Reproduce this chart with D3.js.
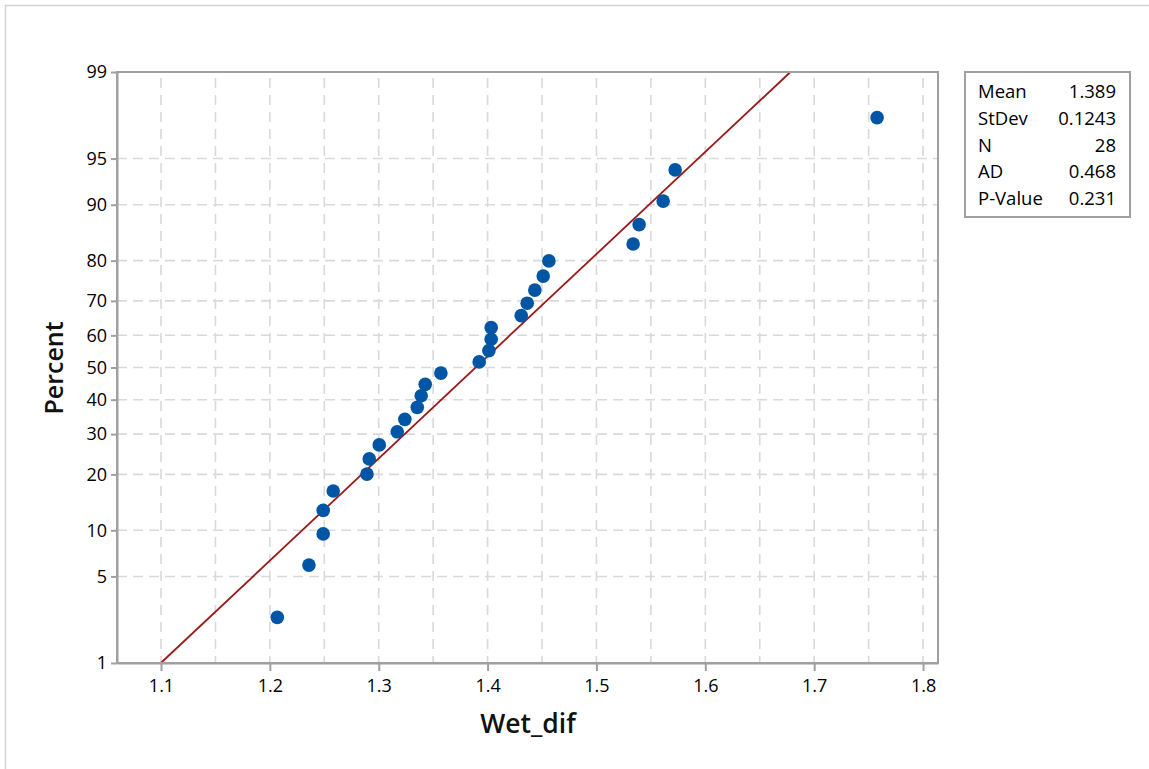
<!DOCTYPE html>
<html><head><meta charset="utf-8">
<script src="https://cdn.jsdelivr.net/npm/d3@7"></script>
<style>body{margin:0;background:#fff}svg{display:block}</style>
</head><body><svg id="c" width="1149" height="769"></svg>
<script>
// ---- data ----
const wetDif = [1.2068, 1.2359, 1.2490, 1.2490, 1.2582, 1.2892, 1.2913, 1.3005, 1.3170, 1.3240,
  1.3354, 1.3390, 1.3427, 1.3571, 1.3923, 1.4012, 1.4033, 1.4033, 1.4309, 1.4364,
  1.4434, 1.4511, 1.4563, 1.5337, 1.5392, 1.5613, 1.5723, 1.7578];
const percents = [2.46, 5.99, 9.51, 13.03, 16.55, 20.07, 23.59, 27.11, 30.63, 34.15,
  37.68, 41.20, 44.72, 48.24, 51.76, 55.28, 58.80, 62.32, 65.85, 69.37,
  72.89, 76.41, 79.93, 83.45, 86.97, 90.49, 94.01, 97.54];
const yTickLabels = [1, 5, 10, 20, 30, 40, 50, 60, 70, 80, 90, 95, 99];
const xTickLabels = [1.1, 1.2, 1.3, 1.4, 1.5, 1.6, 1.7, 1.8];
const xMinorGrid = [1.1, 1.15, 1.2, 1.25, 1.3, 1.35, 1.4, 1.45, 1.5, 1.55, 1.6, 1.65, 1.7, 1.75, 1.8];
const statNames = ["Mean", "StDev", "N", "AD", "P-Value"];
const statValues = ["1.389", "0.1243", "28", "0.468", "0.231"];
const fitMean = 1.389, fitSd = 0.1243;
const fitEnds = [1, 99];

// inverse normal CDF (Acklam)
function probit(p) {
  const a = [-3.969683028665376e+01, 2.209460984245205e+02, -2.759285104469687e+02, 1.383577518672690e+02, -3.066479806614716e+01, 2.506628277459239e+00];
  const b = [-5.447609879822406e+01, 1.615858368580409e+02, -1.556989798598866e+02, 6.680131188771972e+01, -1.328068155288572e+01];
  const c = [-7.784894002430293e-03, -3.223964580411365e-01, -2.400758277161838e+00, -2.549732539343734e+00, 4.374664141464968e+00, 2.938163982698783e+00];
  const d = [7.784695709041462e-03, 3.224671290700398e-01, 2.445134137142996e+00, 3.754408661907416e+00];
  const pl = 0.02425, ph = 1 - pl;
  let q, r;
  if (p < pl) { q = Math.sqrt(-2 * Math.log(p)); return (((((c[0]*q+c[1])*q+c[2])*q+c[3])*q+c[4])*q+c[5]) / ((((d[0]*q+d[1])*q+d[2])*q+d[3])*q+1); }
  if (p <= ph) { q = p - 0.5; r = q*q; return (((((a[0]*r+a[1])*r+a[2])*r+a[3])*r+a[4])*r+a[5])*q / (((((b[0]*r+b[1])*r+b[2])*r+b[3])*r+b[4])*r+1); }
  q = Math.sqrt(-2 * Math.log(1 - p)); return -(((((c[0]*q+c[1])*q+c[2])*q+c[3])*q+c[4])*q+c[5]) / ((((d[0]*q+d[1])*q+d[2])*q+d[3])*q+1);
}

const svg = d3.select("#c");
const L = 117, R = 938, T = 72, B = 663;
const FONT = "'Open Sans', 'Noto Sans', sans-serif";
const AXIS = "#a0a0a0", GRID = "#d9d9d9";

// outer frame
svg.append("rect").attr("x", 5.5).attr("y", 5.5).attr("width", 1200).attr("height", 800)
  .attr("fill", "none").attr("stroke", "#d4d4d4").attr("stroke-width", 1.5);

const x = d3.scaleLinear().domain([1.05958, 1.81375]).range([L, R]);
const z = d3.scaleLinear().domain([probit(0.01), probit(0.99)]).range([B, T]);
const yP = p => z(probit(p / 100));

// grid
const g = svg.append("g");
g.selectAll("line.v").data(xMinorGrid).join("line")
  .attr("x1", d => x(d)).attr("x2", d => x(d)).attr("y1", T + 6).attr("y2", B)
  .attr("stroke", GRID).attr("stroke-width", 1.6).attr("stroke-dasharray", "10,7");
g.selectAll("line.h").data(yTickLabels.slice(1, -1)).join("line")
  .attr("x1", L).attr("x2", R).attr("y1", d => yP(d)).attr("y2", d => yP(d))
  .attr("stroke", GRID).attr("stroke-width", 1.6).attr("stroke-dasharray", "10,6");

// fitted line
const fitX = p => fitMean + probit(p / 100) * fitSd;
svg.append("line")
  .attr("x1", x(fitX(fitEnds[0]))).attr("y1", yP(fitEnds[0]))
  .attr("x2", x(fitX(fitEnds[1]))).attr("y2", yP(fitEnds[1]))
  .attr("stroke", "#9a1a1a").attr("stroke-width", 1.8);

// points
svg.append("g").selectAll("circle").data(wetDif).join("circle")
  .attr("cx", d => x(d)).attr("cy", (d, i) => yP(percents[i]))
  .attr("r", 6.8).attr("fill", "#0055a5");

// frame
svg.append("rect").attr("x", L).attr("y", T).attr("width", R - L).attr("height", B - T)
  .attr("fill", "none").attr("stroke", AXIS).attr("stroke-width", 2);

// axes
const yAxis = d3.axisLeft(z).tickValues(yTickLabels.map(p => probit(p / 100)))
  .tickFormat((d, i) => yTickLabels[i]).tickSize(6).tickSizeOuter(0).tickPadding(4);
const ya = svg.append("g").attr("transform", `translate(${L},0)`).call(yAxis);
const xAxis = d3.axisBottom(x).tickValues(xTickLabels).tickFormat(d3.format(".1f"))
  .tickSize(8).tickSizeOuter(0).tickPadding(8);
const xa = svg.append("g").attr("transform", `translate(0,${B})`).call(xAxis);
[ya, xa].forEach(a => {
  a.select(".domain").attr("stroke", AXIS).attr("stroke-width", 2);
  a.selectAll(".tick line").attr("stroke", AXIS).attr("stroke-width", 2);
  a.selectAll(".tick text").attr("fill", "#000").style("font-family", FONT)
    .style("font-size", "18px").style("font-weight", 500);
});

// axis titles
svg.append("text").attr("x", 528).attr("y", 733).attr("text-anchor", "middle")
  .style("font-family", FONT).style("font-size", "26.5px").style("font-weight", 600).attr("fill", "#111")
  .text("Wet_dif");
svg.append("text").attr("transform", "translate(63,368) rotate(-90)").attr("text-anchor", "middle")
  .style("font-family", FONT).style("font-size", "25px").style("font-weight", 600).attr("fill", "#111")
  .text("Percent");

// stats box
svg.append("rect").attr("x", 965).attr("y", 72).attr("width", 165).attr("height", 145)
  .attr("fill", "#fff").attr("stroke", AXIS).attr("stroke-width", 2);
const sb = svg.append("g").style("font-family", FONT).style("font-size", "18.5px")
  .style("font-weight", 500).attr("fill", "#000");
sb.selectAll("text.n").data(statNames).join("text").attr("x", 978).attr("y", (d, i) => 98 + i * 26.8).text(d => d);
sb.selectAll("text.v").data(statValues).join("text").attr("x", 1116).attr("y", (d, i) => 98 + i * 26.8)
  .attr("text-anchor", "end").text(d => d);
</script></body></html>
